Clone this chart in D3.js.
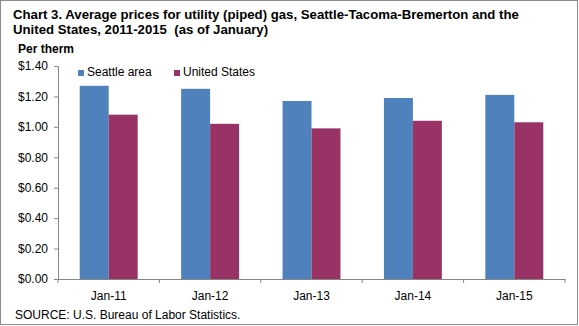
<!DOCTYPE html>
<html>
<head>
<meta charset="utf-8">
<script src="https://cdn.jsdelivr.net/npm/d3@7"></script>
<style>
  body { margin: 0; background: #fff; }
  svg { display: block; font-family: "Liberation Sans", Arial, sans-serif; }
</style>
</head>
<body>
<svg id="chart" width="579" height="326"></svg>
<script>
var categories = ["Jan-11", "Jan-12", "Jan-13", "Jan-14", "Jan-15"];
var seriesNames = ["Seattle area", "United States"];
var seattle = [1.27, 1.25, 1.17, 1.19, 1.21];
var us = [1.08, 1.02, 0.99, 1.04, 1.03];
var yTicks = [0, 0.2, 0.4, 0.6, 0.8, 1.0, 1.2, 1.4];
var colors = ["#4f81bd", "#993366"];

var svg = d3.select("#chart"),
    W = +svg.attr("width"),
    H = +svg.attr("height");

var margin = { top: 66, right: 14, bottom: 47, left: 58 },
    width = W - margin.left - margin.right,
    height = H - margin.top - margin.bottom;

// outer frame
svg.append("rect")
    .attr("x", 0.5).attr("y", 0.5)
    .attr("width", W - 2).attr("height", H - 2)
    .attr("fill", "#fff")
    .attr("stroke", "#8c8c8c");

// title
var title = svg.append("text")
    .attr("x", 13).attr("y", 19)
    .attr("font-size", "13.2px")
    .attr("font-weight", "bold")
    .attr("xml:space", "preserve")
    .style("white-space", "pre")
    .attr("fill", "#000");
title.append("tspan").attr("x", 13).attr("y", 19)
    .text("Chart 3. Average prices for utility (piped) gas, Seattle-Tacoma-Bremerton and the");
title.append("tspan").attr("x", 13).attr("y", 34)
    .text("United States, 2011-2015  (as of January)");

svg.append("text")
    .attr("x", 18).attr("y", 53)
    .attr("font-size", "12px")
    .attr("font-weight", "bold")
    .text("Per therm");

var g = svg.append("g")
    .attr("transform", "translate(" + margin.left + "," + margin.top + ")");

var x0 = d3.scaleBand()
    .domain(categories)
    .range([0, width])
    .padding(0);

var x1 = d3.scaleBand()
    .domain(seriesNames)
    .range([0, x0.bandwidth()])
    .paddingInner(0)
    .paddingOuter(0.75);

var y = d3.scaleLinear()
    .domain([0, 1.4])
    .range([height, 0]);

var rows = categories.map(function (c, i) {
    return { cat: c, values: [seattle[i], us[i]] };
});

// bars
var groups = g.selectAll(".grp")
    .data(rows)
    .enter()
    .append("g")
    .attr("class", "grp")
    .attr("transform", function (d) { return "translate(" + x0(d.cat) + ",0)"; });

groups.selectAll("rect")
    .data(function (d) {
        return d.values.map(function (v, j) { return { name: seriesNames[j], value: v, j: j }; });
    })
    .enter()
    .append("rect")
    .attr("x", function (d) { return x1(d.name); })
    .attr("y", function (d) { return y(d.value); })
    .attr("width", x1.bandwidth())
    .attr("height", function (d) { return height - y(d.value); })
    .attr("fill", function (d) { return colors[d.j]; });

// y axis
var yAxis = g.append("g")
    .call(d3.axisLeft(y)
        .tickValues(yTicks)
        .tickSize(4)
        .tickPadding(6)
        .tickFormat(function (d) { return "$" + d.toFixed(2); }));
yAxis.selectAll("text").attr("font-size", "12px").attr("fill", "#000")
    .attr("font-family", "Liberation Sans, Arial, sans-serif");

// x axis: labels centered, ticks at band edges
var xAxis = g.append("g")
    .attr("transform", "translate(0," + height + ")")
    .call(d3.axisBottom(x0).tickSize(0).tickPadding(12));
xAxis.selectAll("text").attr("font-size", "12px").attr("fill", "#000")
    .attr("font-family", "Liberation Sans, Arial, sans-serif");
var edges = categories.map(function (c) { return x0(c); }).concat([width]);
xAxis.selectAll(".edge")
    .data(edges)
    .enter()
    .append("line")
    .attr("class", "edge")
    .attr("x1", function (d) { return d; })
    .attr("x2", function (d) { return d; })
    .attr("y1", 0).attr("y2", 4)
    .attr("stroke", "#868686");

g.selectAll(".domain").attr("stroke", "#868686");
g.selectAll(".tick line").attr("stroke", "#868686");

// legend
var legend = svg.append("g")
    .attr("transform", "translate(78,66)");
var li = legend.selectAll(".li")
    .data(seriesNames)
    .enter()
    .append("g")
    .attr("transform", function (d, i) { return "translate(" + (i * 96) + ",0)"; });
li.append("rect")
    .attr("x", 0).attr("y", 4)
    .attr("width", 6).attr("height", 6)
    .attr("fill", function (d, i) { return colors[i]; });
li.append("text")
    .attr("x", 9).attr("y", 10)
    .attr("font-size", "12px")
    .text(function (d) { return d; });

// source
svg.append("text")
    .attr("x", 15).attr("y", 319)
    .attr("font-size", "12px")
    .text("SOURCE: U.S. Bureau of Labor Statistics.");
</script>
</body>
</html>
